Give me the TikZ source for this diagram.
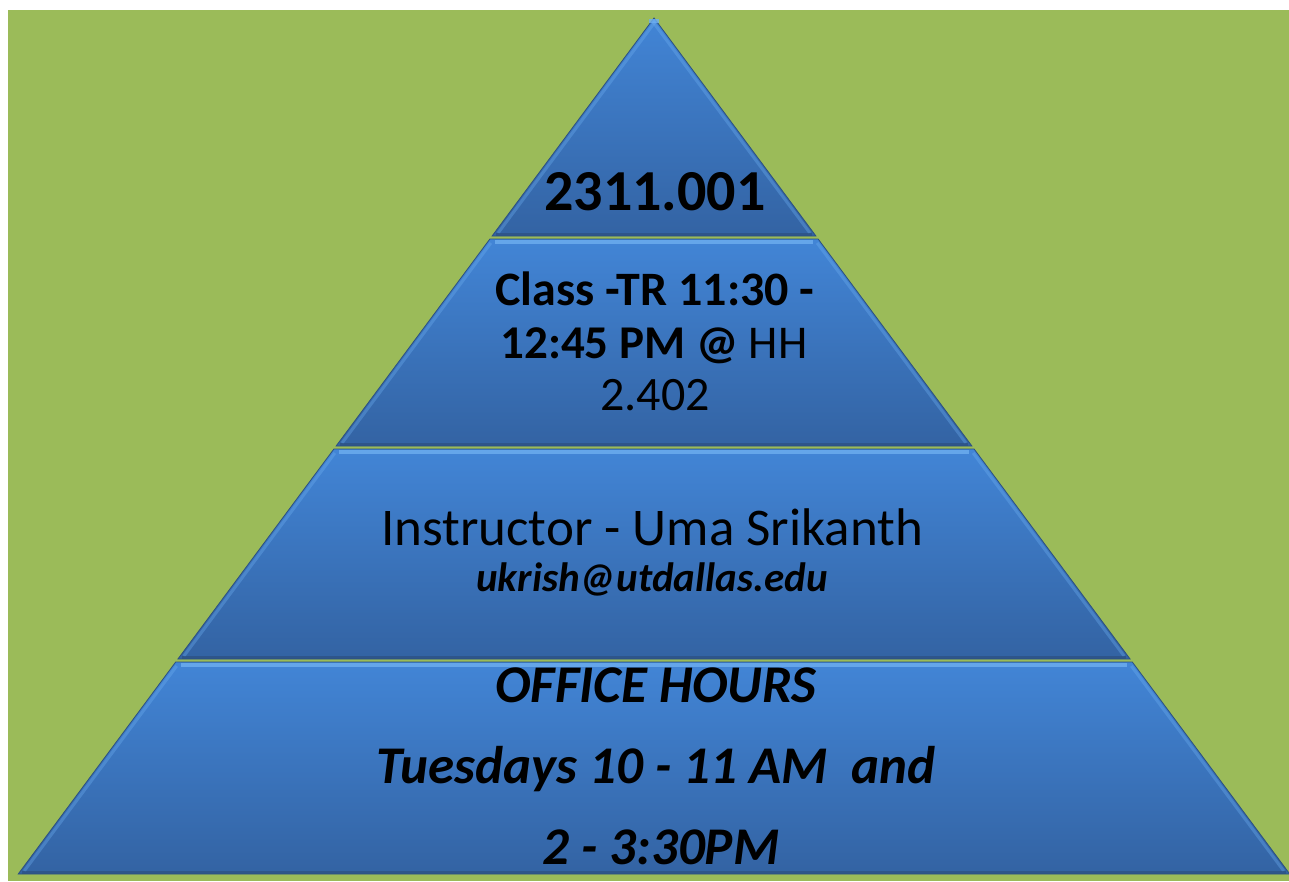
\documentclass[tikz,border=0pt]{standalone}
\usepackage{fontspec}
\setmainfont{Carlito}
\usepackage{xcolor}
\usetikzlibrary{calc,positioning}

\definecolor{bggreen}{RGB}{155,187,89}
\definecolor{tiertop}{RGB}{66,133,214}
\definecolor{tierbot}{RGB}{51,99,163}
\definecolor{tierline}{RGB}{44,80,128}
\definecolor{tierhi}{RGB}{110,175,240}

\begin{document}
\begin{tikzpicture}[x=1pt, y=-1pt,
        tier/.style={top color=tiertop, bottom color=tierbot, draw=tierline, line width=0.8pt},
        hilite/.style={tierhi, line width=4pt, opacity=0.8},
        edgelite/.style={tierhi, line width=3pt, opacity=0.35},
        lowlite/.style={tierline, line width=2.5pt, opacity=0.7},
        txt/.style={anchor=base, inner sep=0pt, text=black}]
    \useasboundingbox (0,0) rectangle (1289,881);
    % background
    \fill[bggreen] (8,10) rectangle (1289,881);

    % pyramid tiers, apex at (654,18)
    \foreach \ytop/\ybot in {18/236, 239/446, 449/659, 662/874} {
        \pgfmathsetmacro{\wt}{0.7427*(\ytop-18)}
        \pgfmathsetmacro{\wb}{0.7427*(\ybot-18)}
        \shade[tier] (654-\wt,\ytop) -- (654+\wt,\ytop) -- (654+\wb,\ybot) -- (654-\wb,\ybot) -- cycle;
        \draw[edgelite] (654-\wt+1,\ytop+4) -- (654-\wb+6,\ybot-3);
        \draw[edgelite] (654+\wt-1,\ytop+4) -- (654+\wb-6,\ybot-3);
        \draw[hilite] (654-\wt+5,\ytop+3) -- (654+\wt-5,\ytop+3);
        \draw[lowlite] (654-\wb+4,\ybot-1.5) -- (654+\wb-4,\ybot-1.5);
    }

    % texts
    \node[txt, font=\fontsize{58}{70}\selectfont\bfseries] (code) at (655,210) {2311.001};

    \node[txt, font=\fontsize{48}{52}\selectfont] (class) at (655,305) {\textbf{Class -TR 11:30 -}};
    \node[txt, font=\fontsize{47}{52}\selectfont] (time) at (654,358) {\textbf{12:45 PM @} HH};
    \node[txt, font=\fontsize{48}{52}\selectfont] (room) at (655,410) {2.402};

    \node[txt, font=\fontsize{53}{60}\selectfont] (instr) at (652,545) {Instructor - Uma Srikanth};
    \node[txt, font=\fontsize{41}{48}\selectfont\bfseries\itshape] (mail) at (652,591) {ukrish@utdallas.edu};

    \node[txt, font=\fontsize{53}{60}\selectfont\bfseries\itshape] (office) at (656,702) {OFFICE HOURS};
    \node[txt, font=\fontsize{53}{60}\selectfont\bfseries\itshape] (days) at (656,783) {Tuesdays 10 - 11 AM\ \ and};
    \node[txt, font=\fontsize{53}{60}\selectfont\bfseries\itshape] (hours) at (661,864) {2 - 3:30PM};
\end{tikzpicture}
\end{document}
